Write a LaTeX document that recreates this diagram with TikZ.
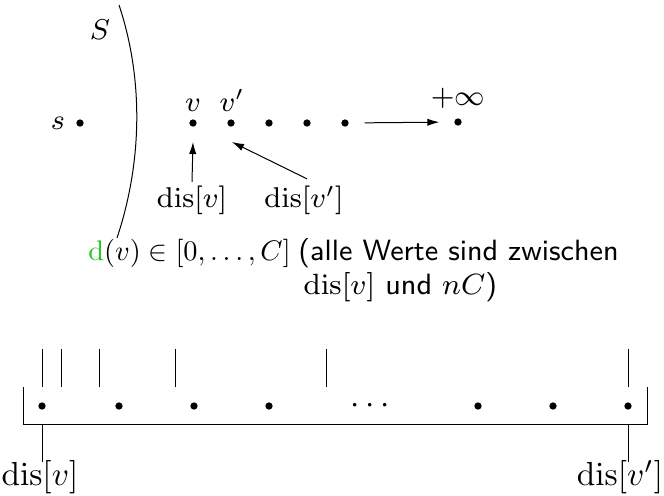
\RequirePackage{fix-cm}
\documentclass[tikz,border=0pt]{standalone}
\usetikzlibrary{arrows.meta}
\definecolor{dgreen}{RGB}{30,200,30}
\begin{document}
\begin{tikzpicture}[x=0.3pt,y=-0.3pt,line width=0.3pt,
  dot/.style={circle,fill,inner sep=0pt,minimum size=2.2pt},
  lbl/.style={inner sep=0pt,font=\fontsize{8.6}{10}\selectfont},
  blbl/.style={inner sep=0pt,font=\fontsize{10}{12}\selectfont},
  mtxt/.style={inner sep=0pt,font=\fontsize{10}{12}\selectfont,scale=0.85,transform shape},
  txt/.style={inner sep=0pt,font=\fontsize{8.8}{10}\selectfont},
  arr/.style={-{Latex[length=3.6pt,width=2.2pt]}}]
\useasboundingbox (0,0) rectangle (664,495);
% top part
\draw (119,5) .. controls (144,80) and (142,163) .. (117,238);
\node[lbl] (S) at (100,30) {$S$};
\node[dot] (s) at (80,123) {};
\node[lbl] (sl) at (58,123) {$s$};
\node[dot] (d1) at (193,123) {};
\node[dot] (d2) at (231,123) {};
\node[dot] (d3) at (269,123) {};
\node[dot] (d4) at (307,123) {};
\node[dot] (d5) at (345,123) {};
\node[dot] (dinf) at (458,122) {};
\node[lbl,anchor=base] (vl) at (193,111) {$v$};
\node[lbl,anchor=base] (vpl) at (232,111) {$v'$};
\node[lbl,anchor=base] (infl) at (458,105) {$+\infty$};
\draw[arr,shorten <=15.5*0.3pt,shorten >=14.5*0.3pt] (d5) -- (dinf);
\node[lbl,inner sep=1pt] (disv) at (192,200) {$\mathrm{dis}[v]$};
\node[lbl,inner sep=1pt] (disvp) at (304,200) {$\mathrm{dis}[v']$};
\coordinate (vt) at (193,142);
\coordinate (vpt) at (232,142);
\draw[arr] (disv.north) -- (vt);
\draw[arr] ([shift={(3,-3)}]disvp.north) -- (vpt);
\node[mtxt,anchor=base west] (dv) at (88,260) {$\textcolor{dgreen}{\mathrm{d}}(v)\in[0,\ldots,C]$};
\node[txt,anchor=base west] (t1) at (298,260) {\textsf{(alle Werte sind zwischen}};
\node[txt,anchor=base west] (t2) at (303,294) {$\mathrm{dis}[v]$ \textsf{und} $nC$\textsf{)}};
% bottom part
\foreach \x in {42,61,99,175,326,628} \draw (\x,349) -- (\x,387);
\draw (23,387) -- (23,424) -- (647,424) -- (647,387);
\foreach \x/\n in {42/b1,119/b2,194/b3,269/b4,478/b5,553/b6,628/b7} \node[dot] (\n) at (\x,406) {};
\node[blbl] (bdots) at (370,406) {$\cdots$};
\draw (42,424) -- (42,462);
\draw (628,424) -- (628,462);
\node[blbl] (bl1) at (40,477) {$\mathrm{dis}[v]$};
\node[blbl] (bl2) at (620,477) {$\mathrm{dis}[v']$};
\end{tikzpicture}
\end{document}
